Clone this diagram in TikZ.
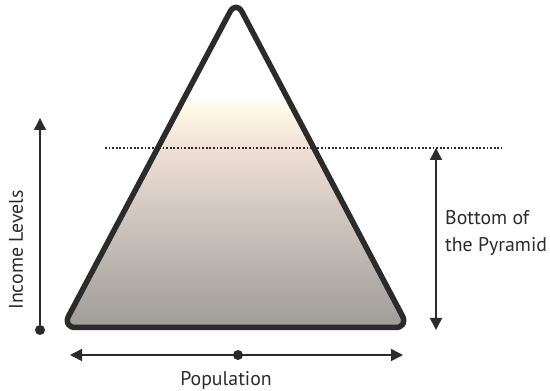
\documentclass[tikz,border=0pt]{standalone}
\usepackage{fontspec}
\setmainfont{PT Sans}
\usetikzlibrary{arrows.meta,positioning}
\definecolor{ink}{HTML}{2B2B2B}
\definecolor{cream}{HTML}{FFF7E4}
\definecolor{beige}{HTML}{EEDFD5}
\definecolor{stone}{HTML}{A29F9B}

\begin{document}
\begin{tikzpicture}[
  x=1pt, y=1pt,
  lab/.style={font=\fontsize{19.8}{27}\selectfont, text=ink, inner sep=0pt},
  axis/.style={draw=ink, line width=1.6pt},
  arr/.style={axis, -{Triangle[length=12pt,width=12pt]}},
  darr/.style={axis, {Triangle[length=12pt,width=12pt]}-{Triangle[length=12pt,width=12pt]}},
  dot/.style={circle, fill=ink, inner sep=0pt, minimum size=10pt},
  pyr/.style={rounded corners=13pt},
]
\useasboundingbox (0,0) rectangle (550,391);

% pyramid corners
\coordinate (apex) at (236,390.5);
\coordinate (bl) at (62.5,63.5);
\coordinate (br) at (408.5,63.5);

\begin{scope}
  \clip[pyr] (apex) -- (br) -- (bl) -- cycle;
  \fill[white] (50,296) rectangle (420,391);
  \shade[top color=white, bottom color=cream] (50,279) rectangle (420,296);
  \shade[top color=cream, bottom color=beige] (50,241) rectangle (420,279);
  \shade[top color=beige, bottom color=stone] (50,71) rectangle (420,241);
  \fill[stone] (50,50) rectangle (420,71);
\end{scope}
\draw[pyr, draw=ink, line width=5.5pt, line join=round] (apex) -- (br) -- (bl) -- cycle;

% threshold
\coordinate (cutL) at (105,243);
\coordinate (cutR) at (502,243);
\draw[ink, line width=1.5pt, dash pattern=on 1.8pt off 1.8pt] (cutL) -- (cutR);

% income axis
\node[dot] (inc0) at (40,61) {};
\coordinate (inc1) at (40,273);
\draw[arr] (inc0) -- (inc1);
\node[lab, rotate=90] (inclab) at (16,141) {Income Levels};

% bottom of the pyramid
\coordinate (bop1) at (436,243);
\coordinate (bop0) at (436,61);
\draw[darr] (bop0) -- (bop1);
\node[lab, align=left, anchor=west] (boplab) at (445,158) {Bottom of\\the Pyramid};

% population axis
\coordinate (popL) at (70,36);
\coordinate (popR) at (403,36);
\node[dot] (pop0) at (238,36) {};
\draw[darr] (popL) -- (popR);
\node[lab] (poplab) at (226,11) {Population};
\end{tikzpicture}
\end{document}
